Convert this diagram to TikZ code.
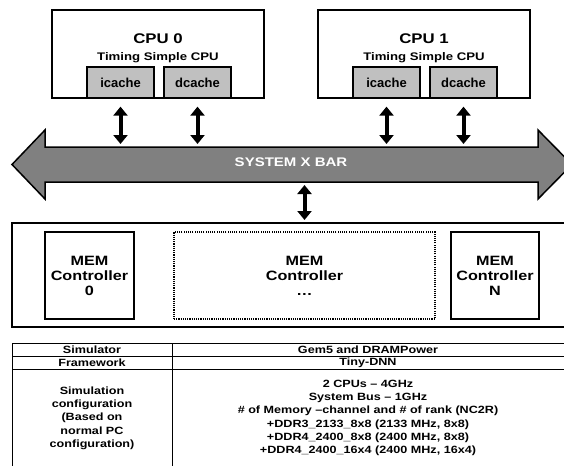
\documentclass[tikz,border=0pt]{standalone}
\usepackage{fontspec}
\setmainfont{Liberation Sans}[FakeStretch=1.2]
\newfontfamily\cachefont{Liberation Sans}
\usetikzlibrary{arrows.meta}
\definecolor{busgray}{RGB}{128,128,128}
\definecolor{cachegray}{RGB}{192,192,192}

\begin{document}
\begin{tikzpicture}[x=1pt,y=-1pt,
  box/.style={draw,line width=1.3pt,inner sep=0pt},
  cache/.style={box,fill=cachegray,minimum width=67pt,minimum height=31pt,font=\cachefont\fontsize{13}{15}\selectfont\bfseries},
  memctl/.style={box,minimum height=87pt,align=center,font=\fontsize{13.5}{15}\selectfont\bfseries},
  dblarrow/.style={line width=4pt,{Triangle[width=14pt,length=9pt]}-{Triangle[width=14pt,length=9pt]}},
  tbltext/.style={align=center,inner sep=0pt,font=\fontsize{10.5}{13.3}\selectfont\bfseries}]
  \useasboundingbox (0,0) rectangle (564,466);
  % processors
  \node[box,minimum width=212pt,minimum height=88pt] (cpu0) at (158,54) {};
  \node[box,minimum width=212pt,minimum height=88pt] (cpu1) at (424,54) {};
  \node[anchor=base,font=\fontsize{14}{16}\selectfont\bfseries] (cpu0name) at (158,43) {CPU 0};
  \node[anchor=base,font=\fontsize{11}{12}\selectfont\bfseries] (cpu0type) at (158,60) {Timing Simple CPU};
  \node[anchor=base,font=\fontsize{14}{16}\selectfont\bfseries] (cpu1name) at (424,43) {CPU 1};
  \node[anchor=base,font=\fontsize{11}{12}\selectfont\bfseries] (cpu1type) at (424,60) {Timing Simple CPU};
  \node[cache] (ic0) at (120.5,82.5) {icache};
  \node[cache] (dc0) at (197.5,82.5) {dcache};
  \node[cache] (ic1) at (386.5,82.5) {icache};
  \node[cache] (dc1) at (463.5,82.5) {dcache};

  % system crossbar
  \draw[line width=1.5pt,fill=busgray,line join=miter]
    (12,164.5) -- (45,130) -- (45,147) -- (538,147) -- (538,130) -- (572,164.5)
    -- (538,199) -- (538,182) -- (45,182) -- (45,199) -- cycle;
  \node[font=\fontsize{12.5}{14}\selectfont\bfseries,text=white] (bus) at (291,162) {SYSTEM X BAR};
  \coordinate (bustop) at (291,147);
  \coordinate (busbot) at (291,182);
  \draw[dblarrow,shorten <=8pt,shorten >=3pt] (ic0.south) -- (ic0.south |- bustop);
  \draw[dblarrow,shorten <=8pt,shorten >=3pt] (dc0.south) -- (dc0.south |- bustop);
  \draw[dblarrow,shorten <=8pt,shorten >=3pt] (ic1.south) -- (ic1.south |- bustop);
  \draw[dblarrow,shorten <=8pt,shorten >=3pt] (dc1.south) -- (dc1.south |- bustop);

  % memory controllers
  \draw[line width=1.5pt] (564,223) -- (12,223) -- (12,327) -- (564,327);
  \coordinate (memtop) at (303,223);
  \node[memctl,minimum width=89pt] (mc0) at (89.5,275.5) {MEM\\Controller\\0};
  \node[memctl,minimum width=261pt,dash pattern=on 1.1pt off 1.1pt] (mcdots) at (304.5,275.5) {MEM\\Controller\\…};
  \node[memctl,minimum width=88pt] (mcN) at (495,275.5) {MEM\\Controller\\N};
  \draw[dblarrow,shorten <=3pt,shorten >=3pt] (mcdots.north |- busbot) -- (mcdots.north |- memtop);

  % simulation setup table
  \draw[line width=1pt] (12,343) -- (564,343);
  \draw[line width=1pt] (12,356) -- (564,356);
  \draw[line width=1pt] (12,369) -- (564,369);
  \draw[line width=1pt] (12,343) -- (12,466);
  \draw[line width=1pt] (172,343) -- (172,466);
  \node[tbltext] (simlbl) at (92,350) {Simulator};
  \node[tbltext] (simval) at (368,350) {Gem5 and DRAMPower};
  \node[tbltext] (fwlbl) at (92,363) {Framework};
  \node[tbltext] (fwval) at (368,363) {Tiny-DNN};
  \node[tbltext] (cfglbl) at (92,418) {Simulation\\configuration\\(Based on\\normal PC\\configuration)};
  \node[tbltext] (cfgval) at (368,418) {2 CPUs – 4GHz\\System Bus – 1GHz\\\# of Memory –channel and \# of rank (NC2R)\\+DDR3\_2133\_8x8 (2133 MHz, 8x8)\\+DDR4\_2400\_8x8 (2400 MHz, 8x8)\\+DDR4\_2400\_16x4 (2400 MHz, 16x4)};
\end{tikzpicture}
\end{document}
